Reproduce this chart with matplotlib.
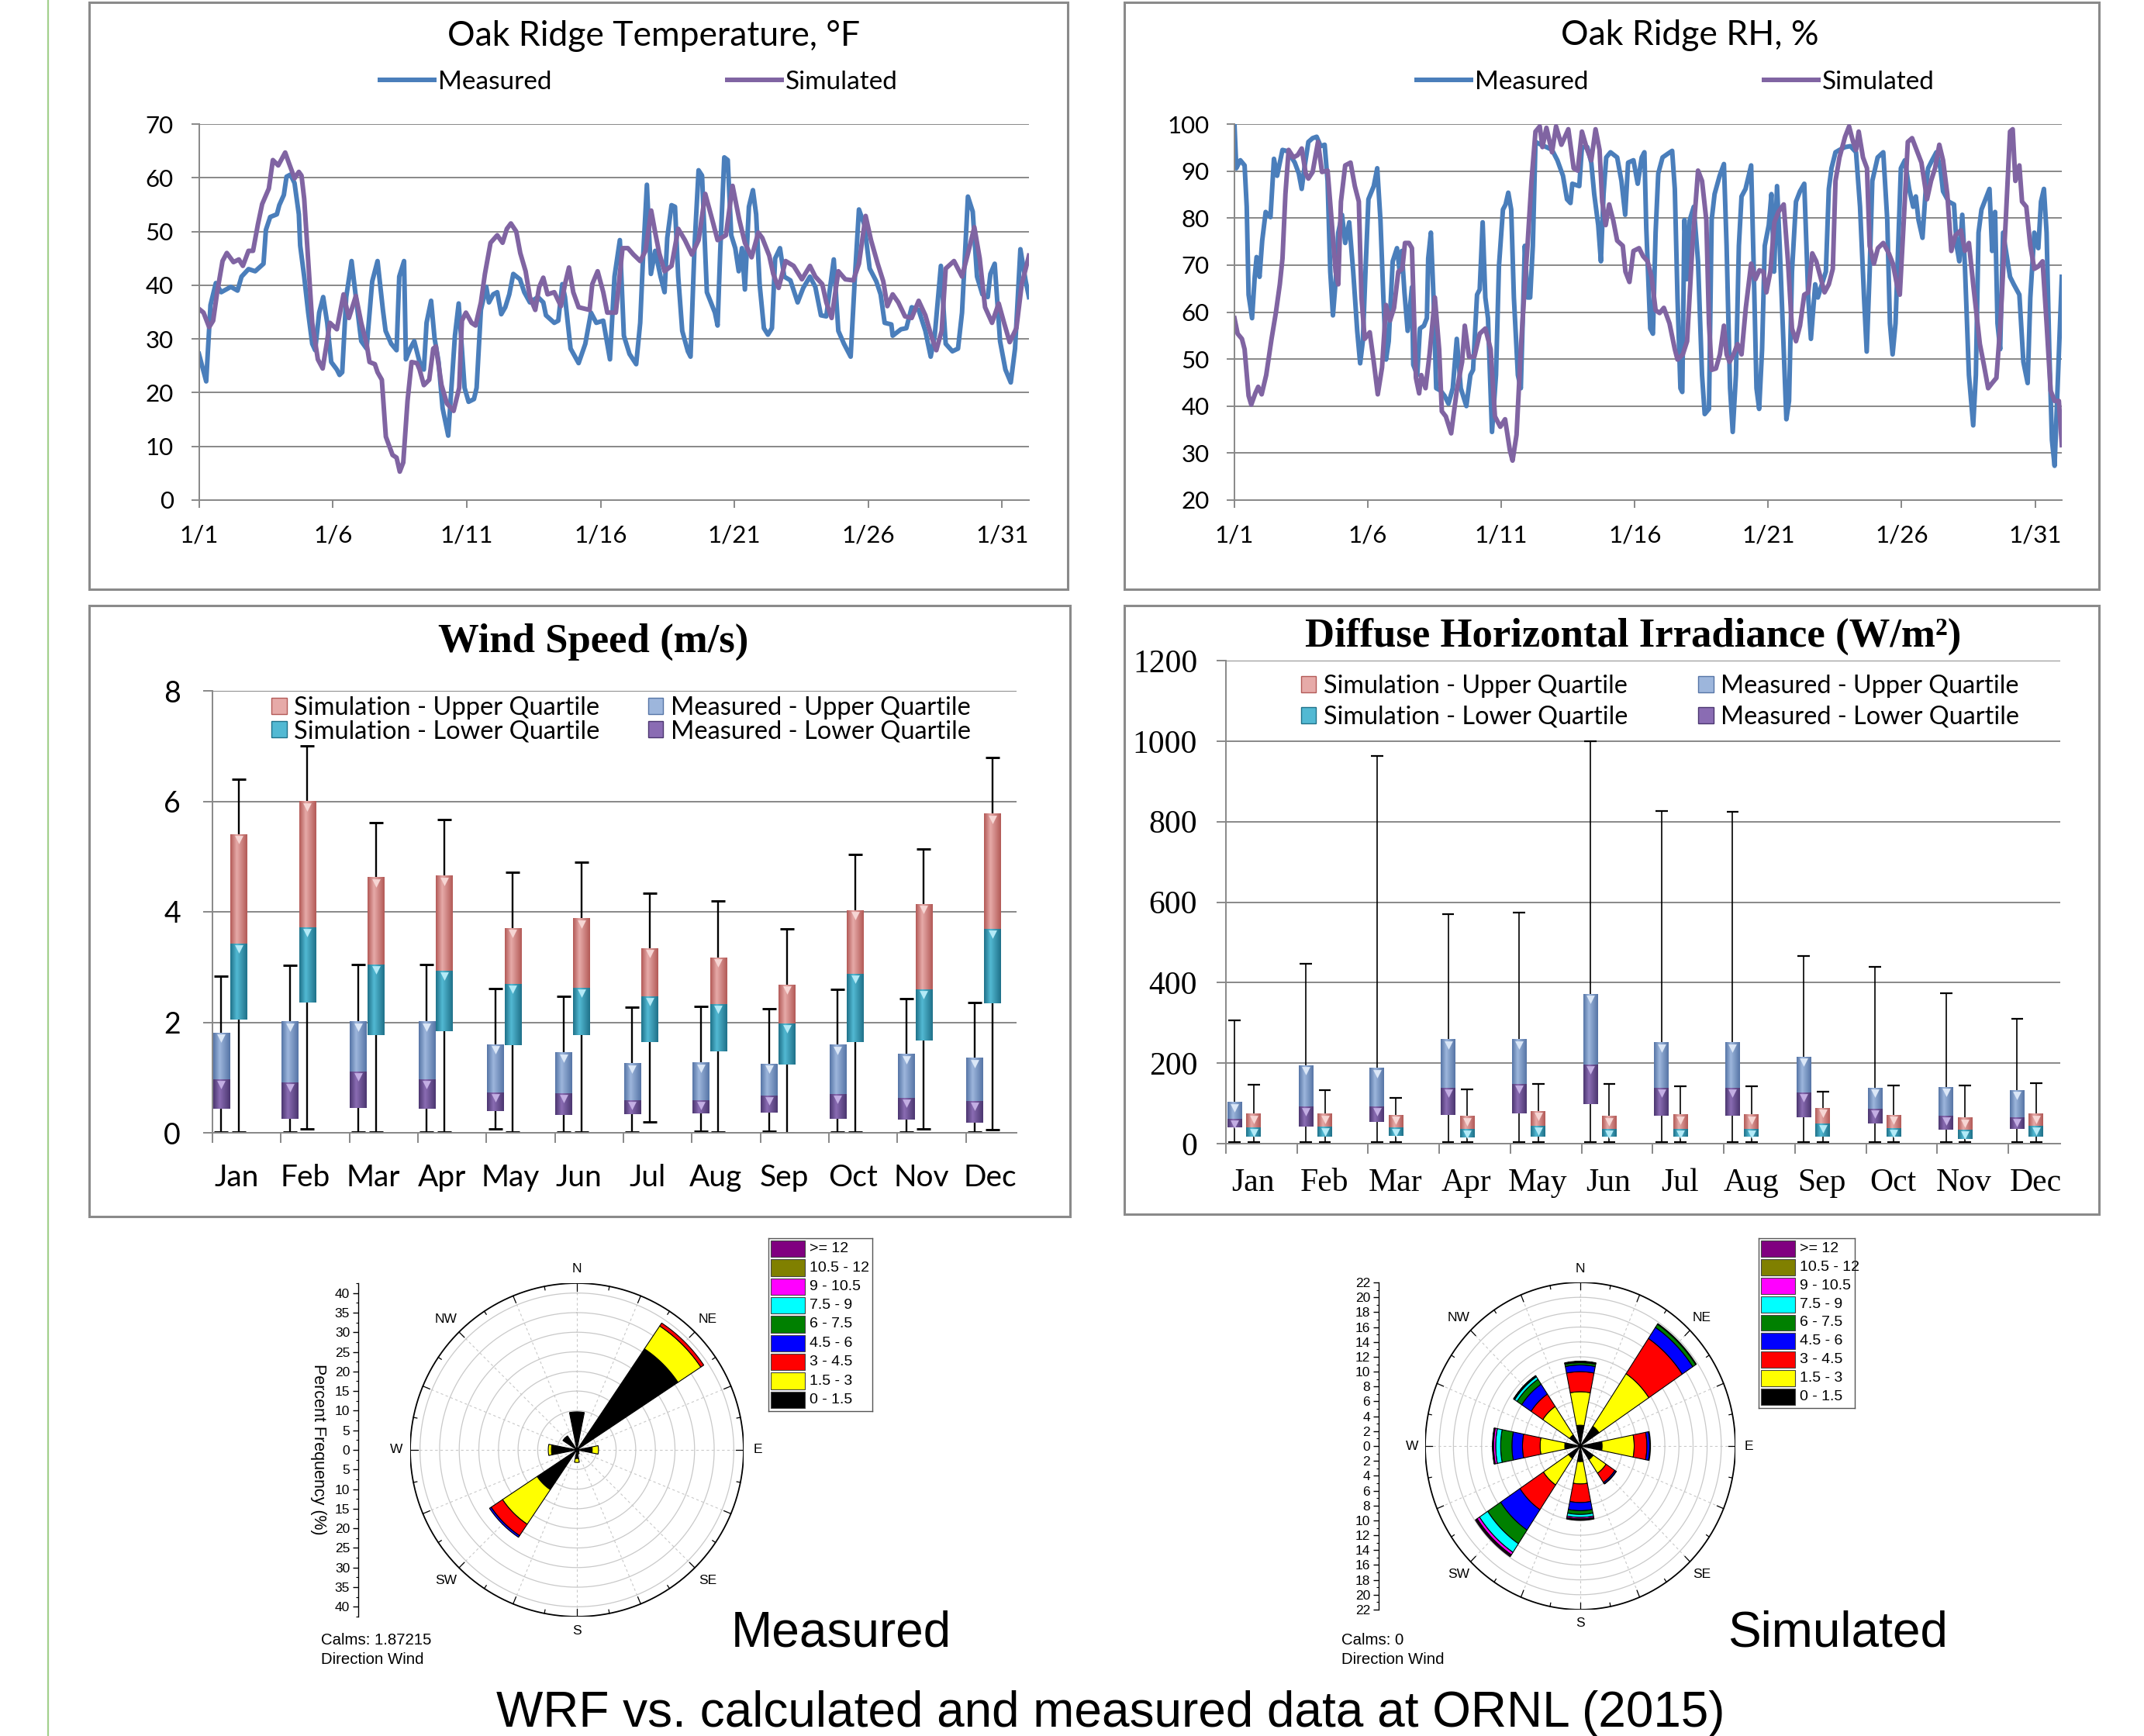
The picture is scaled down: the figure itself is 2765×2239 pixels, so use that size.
import matplotlib
matplotlib.use("Agg")
import matplotlib.pyplot as plt
import numpy as np
from matplotlib import transforms
from matplotlib.colors import LinearSegmentedColormap
from matplotlib.lines import Line2D
from matplotlib.patches import Patch, Rectangle
from matplotlib.ticker import MultipleLocator, FixedLocator

W, H, DPI = 2765, 2239, 100

# ---------------- hourly-ish traces (day of January, value) ----------------
TEMP_MEAS_DAY = [0, 0.27, 0.43, 0.63, 0.83, 1.19, 1.44, 1.59, 1.85, 2.1, 2.41, 2.5, 2.66, 2.91, 3.0, 3.17,
                 3.27, 3.42, 3.57, 3.73, 3.78, 3.93, 4.08, 4.23, 4.34, 4.49, 4.64, 4.79, 4.94, 5.15, 5.25,
                 5.35, 5.5, 5.7, 5.86, 6.06, 6.26, 6.47, 6.67, 6.87, 6.97, 7.18, 7.38, 7.48, 7.66, 7.73,
                 7.89, 8.04, 8.24, 8.4, 8.5, 8.67, 8.8, 8.95, 9.1, 9.31, 9.41, 9.56, 9.7, 9.82, 9.92,
                 10.07, 10.27, 10.37, 10.53, 10.73, 10.83, 10.99, 11.14, 11.29, 11.44, 11.59, 11.74,
                 11.99, 12.15, 12.36, 12.66, 12.86, 12.96, 13.27, 13.42, 13.57, 13.67, 13.88, 14.18,
                 14.43, 14.64, 14.84, 15.1, 15.35, 15.52, 15.72, 15.87, 16.08, 16.33, 16.48, 16.58,
                 16.73, 16.88, 17.04, 17.24, 17.39, 17.49, 17.65, 17.78, 17.9, 18.05, 18.26, 18.36,
                 18.51, 18.66, 18.79, 18.97, 19.12, 19.27, 19.37, 19.47, 19.62, 19.75, 19.88, 20.03,
                 20.16, 20.28, 20.39, 20.54, 20.69, 20.81, 20.94, 21.1, 21.25, 21.4, 21.52, 21.7,
                 21.86, 22.09, 22.36, 22.57, 22.82, 23.02, 23.23, 23.43, 23.55, 23.71, 23.88, 24.09,
                 24.34, 24.49, 24.65, 24.85, 25.05, 25.3, 25.46, 25.61, 25.86, 25.91, 26.22, 26.42,
                 26.62, 26.88, 27.13, 27.33, 27.48, 27.71, 27.89, 28.14, 28.35, 28.5, 28.72, 28.9,
                 29.06, 29.26, 29.46, 29.56, 29.72, 29.92, 30.12, 30.32, 30.48, 30.68, 30.88, 31.0]
TEMP_MEAS = [27.2, 22.1, 36.3, 40.4, 38.7, 39.7, 39.0, 41.6, 43.0, 42.6, 44.0, 50.3, 52.7, 53.2, 54.9, 56.8,
             60.2, 60.6, 59.0, 53.2, 47.4, 41.6, 34.9, 29.1, 27.9, 34.9, 37.8, 33.0, 25.7, 24.3, 23.3,
             23.8, 37.8, 44.5, 37.8, 29.6, 28.2, 40.7, 44.5, 35.4, 31.5, 29.1, 27.9, 41.6, 44.5, 26.2,
             28.2, 29.6, 25.7, 24.3, 33.0, 37.1, 30.1, 25.7, 17.1, 12.0, 19.5, 30.6, 36.6, 28.2, 20.9,
             18.3, 18.8, 20.9, 35.4, 39.7, 36.8, 38.3, 38.7, 34.6, 35.9, 38.3, 42.1,
             41.1, 38.7, 36.8, 37.8, 36.8, 34.4, 33.0, 33.4, 40.2, 37.8, 28.2, 25.5,
             29.1, 34.9, 33.0, 33.4, 26.2, 41.6, 48.4, 30.6, 27.2, 25.3, 33.0, 44.5,
             58.7, 42.1, 46.4, 41.6, 38.7, 48.8, 54.9, 54.6, 41.6, 31.5, 27.7, 26.7,
             47.4, 61.4, 60.4, 38.7, 36.8, 34.9, 32.5, 46.4, 63.8, 63.3, 49.3, 46.9,
             42.6, 46.9, 39.2, 54.6, 57.7, 53.2, 40.2, 32.0, 30.8, 32.0, 45.0, 46.9,
             41.6, 40.9, 36.8, 39.5, 41.6, 39.7, 34.4, 34.2, 38.7, 44.8, 31.5, 29.1,
             26.7, 40.7, 54.1, 51.3, 43.1, 40.7, 38.3, 33.0, 32.7, 30.6, 31.8, 32.0,
             35.9, 35.4, 31.5, 26.7, 30.6, 43.6, 29.1, 27.7, 28.2, 34.9, 56.5, 53.7,
             41.6, 38.3, 37.8, 42.1, 44.0, 29.6, 24.3, 21.9, 28.2, 46.7, 40.7, 37.8]

TEMP_SIM_DAY = [0, 0.17, 0.38, 0.53, 0.68, 0.88, 1.04, 1.29, 1.49, 1.64, 1.85, 2.02, 2.2, 2.36, 2.61, 2.76,
                2.96, 3.22, 3.37, 3.57, 3.73, 3.83, 3.93, 4.08, 4.23, 4.44, 4.62, 4.74, 4.89, 5.15, 5.4,
                5.6, 5.86, 6.06, 6.26, 6.37, 6.57, 6.67, 6.83, 6.98, 7.23, 7.38, 7.5, 7.63, 7.79, 7.94,
                8.14, 8.24, 8.4, 8.6, 8.75, 8.85, 9.06, 9.26, 9.51, 9.72, 9.82, 9.97, 10.18, 10.33,
                10.53, 10.68, 10.89, 11.14, 11.34, 11.5, 11.65, 11.85, 12.0, 12.2, 12.36, 12.56, 12.71,
                12.86, 13.02, 13.27, 13.52, 13.67, 13.82, 13.98, 14.18, 14.59, 14.69, 14.89, 15.1,
                15.25, 15.57, 15.82, 16.02, 16.23, 16.48, 16.68, 16.89, 17.04, 17.19, 17.39, 17.65,
                17.9, 18.15, 18.41, 18.66, 18.91, 19.17, 19.37, 19.68, 19.93, 20.18, 20.39, 20.64,
                20.89, 21.04, 21.3, 21.45, 21.65, 21.91, 22.21, 22.52, 22.82, 23.02, 23.28, 23.43,
                23.63, 23.88, 24.14, 24.44, 24.65, 24.9, 25.1, 25.35, 25.56, 25.71, 25.91, 26.12,
                26.37, 26.62, 26.88, 27.13, 27.38, 27.54, 27.74, 27.89, 28.2, 28.5, 28.7, 28.96,
                29.16, 29.36, 29.62, 29.87, 30.07, 30.28, 30.53, 30.73, 30.88, 31.0]
TEMP_SIM = [35.6, 34.9, 32.2, 33.4, 38.7, 44.5, 46.0, 44.3, 44.8, 43.6, 46.4, 46.4, 51.3, 55.1, 58.0, 63.3,
            62.3, 64.7, 62.6, 59.9, 61.1, 60.4, 56.1, 44.5, 33.0, 26.2, 24.5, 28.2, 33.0, 31.8, 38.3,
            33.9, 38.0, 33.0, 29.1, 25.7, 25.3, 23.8, 22.4, 11.8, 8.4, 7.9, 5.3, 7.0, 18.5, 25.7,
            25.5, 24.3, 21.4, 22.4, 28.2, 28.6, 21.4, 18.0, 16.6, 20.9, 33.4, 34.9, 33.0, 32.5,
            36.8, 42.1, 47.9, 49.3, 47.9, 50.5, 51.5, 50.0, 46.0, 42.6, 37.8, 35.4, 39.7,
            41.4, 38.3, 38.7, 36.1, 40.2, 43.3, 38.7, 35.9, 35.4, 40.2, 42.6, 38.7,
            34.9, 34.9, 46.9, 46.9, 45.7, 44.5, 46.4, 53.9, 49.8, 46.0, 42.6, 43.6,
            50.5, 48.4, 45.7, 48.4, 57.0, 52.2, 48.4, 49.3, 58.5, 52.2, 47.9, 45.2,
            49.8, 48.8, 45.5, 42.1, 39.5, 44.5, 43.6, 41.1, 43.6, 41.6, 40.2, 36.8,
            33.9, 42.6, 41.1, 40.9, 44.0, 52.9, 48.4, 44.0, 40.7, 36.1, 38.3, 36.8,
            34.2, 33.9, 37.1, 34.4, 30.1, 27.9, 31.5, 43.1, 44.5, 41.6, 45.5, 50.8,
            45.0, 35.9, 33.0, 36.6, 33.0, 29.4, 32.0, 40.2, 43.1, 45.5]

RH_MEAS_DAY = [0, 0.07, 0.22, 0.38, 0.46, 0.53, 0.66, 0.76, 0.83, 0.94, 1.04, 1.17, 1.35, 1.48, 1.6, 1.7,
               1.8, 2.0, 2.26, 2.41, 2.52, 2.62, 2.77, 2.93, 3.08, 3.23, 3.38, 3.49, 3.59, 3.69, 3.79,
               3.89, 4.03, 4.15, 4.3, 4.45, 4.6, 4.71, 4.81, 4.91, 5.02, 5.22, 5.35, 5.47, 5.58, 5.68,
               5.78, 5.93, 6.09, 6.19, 6.27, 6.37, 6.49, 6.65, 6.7, 6.85, 6.95, 7.1, 7.21, 7.26, 7.36,
               7.46, 7.56, 7.72, 7.87, 8.02, 8.18, 8.33, 8.48, 8.69, 8.84, 8.94, 9.09, 9.19, 9.3, 9.4,
               9.5, 9.65, 9.8, 9.91, 10.06, 10.16, 10.26, 10.37, 10.47, 10.62, 10.73, 10.88, 10.98,
               11.08, 11.18, 11.28, 11.49, 11.69, 11.9, 12.1, 12.31, 12.46, 12.59, 12.66, 12.92,
               13.02, 13.22, 13.37, 13.48, 13.63, 13.73, 13.83, 13.93, 14.09, 14.34, 14.5, 14.64,
               14.75, 14.95, 15.11, 15.26, 15.36, 15.43, 15.58, 15.68, 15.78, 15.88, 16.04, 16.24,
               16.4, 16.5, 16.6, 16.71, 16.78, 16.86, 16.96, 17.06, 17.21, 17.37, 17.52, 17.62,
               17.78, 17.88, 17.99, 18.18, 18.34, 18.44, 18.57, 18.67, 18.79, 18.9, 19.0, 19.15,
               19.36, 19.46, 19.56, 19.66, 19.77, 19.87, 20.02, 20.12, 20.22, 20.33, 20.43, 20.58,
               20.68, 20.78, 20.89, 21.04, 21.19, 21.35, 21.5, 21.6, 21.76, 21.86, 22.01, 22.16,
               22.27, 22.37, 22.52, 22.67, 22.88, 23.08, 23.29, 23.44, 23.59, 23.69, 23.8, 23.9,
               24.1, 24.31, 24.46, 24.56, 24.66, 24.77, 24.87, 24.97, 25.12, 25.28, 25.43, 25.53,
               25.63, 25.78, 25.89, 25.99, 26.14, 26.3, 26.45, 26.55, 26.76, 26.96, 27.06, 27.16,
               27.27, 27.37, 27.52, 27.68, 27.78, 27.88, 27.99, 28.14, 28.29, 28.39, 28.5, 28.59,
               28.69, 28.8, 29.06, 29.2, 29.41, 29.56, 29.72, 29.82, 29.97, 30.12, 30.22, 30.33,
               30.43, 30.53, 30.63, 30.73, 30.84, 30.94, 31.0]
RH_MEAS = [100, 90.6, 92.3, 91.2, 82.4, 63.7, 58.7, 67.5, 71.7, 67.5, 75.2, 81.3, 80.2, 92.6, 89.0, 91.8,
           94.5, 94.2, 91.8, 89.5, 86.2, 90.6, 96.2, 97.0, 97.3, 95.3, 95.6, 87.9, 68.6, 59.3, 66.4,
           76.9, 80.7, 74.7, 79.1, 68.6, 56.0, 49.1, 53.8, 68.6, 84.0, 86.8, 90.6, 79.6, 63.1, 49.9,
           53.8, 70.8, 73.6, 68.6, 73.0, 64.2, 56.0, 65.3, 48.8, 46.6, 56.5, 57.1, 58.7, 71.4, 76.9,
           63.1, 43.8, 43.3, 42.2, 40.5, 43.8, 54.3, 43.8, 40.0, 46.6, 47.7, 63.7, 64.8, 79.1, 63.1,
           58.7, 34.5, 46.6, 69.7, 81.8, 82.9, 85.4, 81.8, 63.1, 46.6, 43.8, 74.1, 63.1,
           63.1, 74.1, 96.2, 95.6, 95.1, 94.5, 92.3, 89.0, 84.0, 83.2, 87.3, 86.8,
           95.1, 95.1, 91.8, 85.1, 78.5, 70.8, 85.1, 92.9, 94.0, 92.9, 87.9, 80.7,
           91.8, 92.3, 87.3, 92.9, 94.0, 78.0, 56.5, 55.4, 76.9, 89.5, 92.9, 93.7,
           94.3, 86.2, 63.1, 43.8, 43.0, 79.6, 67.0, 79.6, 82.4, 70.8, 46.6, 38.3,
           39.4, 79.6, 85.1, 89.0, 91.5, 74.1, 43.8, 34.5, 46.6, 74.1, 84.6, 86.2,
           91.2, 68.6, 43.8, 39.4, 52.1, 74.1, 78.5, 85.1, 68.6, 86.8, 74.1, 52.1,
           37.2, 41.1, 68.6, 83.5, 85.7, 87.3, 63.1, 54.3, 65.9, 63.1, 65.9, 68.6,
           86.2, 90.6, 94.0, 94.5, 95.1, 95.3, 94.0, 82.4, 63.1, 51.6, 68.6, 87.9,
           92.9, 94.0, 79.6, 57.6, 51.0, 57.6, 74.1, 90.6, 92.3, 86.2, 82.4, 84.6,
           79.6, 75.8, 85.1, 90.6, 92.3, 94.0, 90.6, 85.7, 83.5, 82.9, 74.1, 70.8,
           80.7, 69.7, 46.6, 35.9, 46.6, 76.9, 81.8, 84.0, 86.2, 73.0, 81.3, 57.6,
           52.1, 76.9, 67.5, 65.9, 63.7, 49.4, 44.9, 63.1, 76.9, 73.6, 83.5, 86.2,
           76.9, 52.1, 32.8, 27.3, 43.8, 58.7, 67.5]

RH_SIM_DAY = [0, 0.12, 0.28, 0.38, 0.53, 0.63, 0.78, 0.89, 1.02, 1.19, 1.39, 1.55, 1.7, 1.8, 1.91, 2.03,
              2.21, 2.37, 2.52, 2.67, 2.77, 2.93, 3.13, 3.28, 3.49, 3.64, 3.79, 3.89, 3.99, 4.15, 4.35,
              4.51, 4.66, 4.76, 4.88, 5.07, 5.22, 5.37, 5.53, 5.68, 5.83, 5.98, 6.14, 6.29, 6.39, 6.54,
              6.65, 6.8, 6.92, 7.0, 7.16, 7.31, 7.51, 7.67, 7.77, 7.92, 8.12, 8.33, 8.53, 8.63, 8.79,
              8.99, 9.19, 9.4, 9.6, 9.76, 9.96, 10.14, 10.32, 10.42, 10.57, 10.73, 10.88, 10.98,
              11.13, 11.28, 11.44, 11.54, 11.69, 11.9, 12.05, 12.25, 12.51, 12.71, 12.86, 13.02,
              13.22, 13.37, 13.53, 13.68, 13.78, 13.91, 14.04, 14.19, 14.34, 14.55, 14.65, 14.8,
              14.95, 15.16, 15.31, 15.48, 15.63, 15.78, 15.93, 16.09, 16.3, 16.5, 16.6, 16.8, 16.96,
              17.16, 17.37, 17.52, 17.68, 17.78, 17.88, 18.04, 18.19, 18.34, 18.44, 18.55, 18.7,
              18.85, 19.0, 19.16, 19.36, 19.52, 19.67, 19.82, 19.93, 20.08, 20.23, 20.38, 20.58,
              20.74, 20.89, 21.04, 21.19, 21.35, 21.5, 21.65, 21.8, 22.11, 22.27, 22.42, 22.52,
              22.67, 22.88, 23.03, 23.18, 23.29, 23.39, 23.55, 23.7, 23.8, 23.96, 24.11, 24.31,
              24.52, 24.67, 24.82, 24.93, 25.08, 25.23, 25.39, 25.59, 25.74, 25.95, 26.1, 26.25,
              26.41, 26.55, 26.71, 26.86, 27.01, 27.22, 27.37, 27.52, 27.68, 27.93, 28.08, 28.24,
              28.39, 28.55, 28.7, 28.9, 29.06, 29.16, 29.26, 29.41, 29.51, 29.67, 29.82, 29.97,
              30.12, 30.28, 30.43, 30.58, 30.73, 30.89, 31.0]
RH_SIM = [58.7, 55.4, 54.3, 52.1, 42.2, 40.3, 42.7, 44.1, 42.5, 46.6, 54.3, 59.8, 65.9, 71.4, 85.1, 94.5,
          92.9, 93.4, 94.8, 89.5, 88.4, 89.8, 96.2, 89.8, 90.1, 79.6, 68.6, 65.9, 83.5, 91.2, 91.8,
          86.8, 83.5, 63.1, 54.3, 55.7, 49.4, 42.5, 48.2, 61.5, 58.2, 60.9, 68.6, 69.2, 74.7, 74.7,
          73.6, 46.0, 42.7, 46.6, 43.8, 51.0, 63.1, 52.1, 38.9, 37.8, 34.2, 43.3, 49.4, 57.1, 50.5,
          50.5, 55.4, 56.5, 52.1, 37.8, 35.6, 37.2, 30.6, 28.4, 33.9, 52.1, 65.9, 74.1,
          87.9, 98.4, 99.5, 95.1, 99.2, 94.0, 99.5, 95.6, 98.9, 90.6, 90.1, 98.4,
          94.5, 92.3, 98.9, 94.5, 83.5, 78.5, 82.9, 79.6, 75.2, 74.1, 68.6, 66.4,
          73.0, 73.6, 71.9, 70.8, 67.5, 60.4, 59.8, 60.9, 57.6, 52.1, 49.9, 51.0, 53.8,
          74.1, 90.1, 87.9, 79.6, 57.6, 47.7, 48.0, 51.0, 57.1, 51.0, 49.4, 51.0,
          53.2, 51.0, 60.9, 70.3, 67.0, 68.9, 68.6, 64.2, 68.6, 79.1, 81.3, 82.9,
          70.8, 56.5, 53.8, 57.1, 63.7, 64.2, 72.5, 70.8, 64.2, 65.9, 69.2, 87.9,
          92.9, 97.3, 99.5, 96.2, 94.5, 98.4, 92.9, 90.6, 74.1, 70.3, 73.6, 74.7,
          72.5, 70.3, 65.9, 63.7, 79.6, 96.2, 97.0, 94.0, 91.8, 84.0, 87.9, 90.6,
          95.6, 92.3, 85.1, 73.0, 76.3, 77.4, 73.0, 74.7, 65.9, 53.2, 48.8, 43.8,
          44.9, 46.0, 57.6, 79.6, 98.4, 98.9, 87.9, 91.2, 83.5, 82.4, 74.1, 69.2,
          69.7, 70.8, 57.6, 43.3, 41.1, 41.1, 31.7]

# ---------------- monthly box plots ----------------
MONTHS = ["Jan", "Feb", "Mar", "Apr", "May", "Jun", "Jul", "Aug", "Sep", "Oct", "Nov", "Dec"]

WS_MEAS_MIN = [0.02, 0.02, 0.02, 0.02, 0.07, 0.02, 0.02, 0.03, 0.03, 0.02, 0.02, 0.02]
WS_MEAS_Q1 = [0.43, 0.25, 0.45, 0.43, 0.39, 0.32, 0.34, 0.35, 0.36, 0.25, 0.24, 0.18]
WS_MEAS_MED = [0.97, 0.91, 1.11, 0.97, 0.73, 0.72, 0.59, 0.59, 0.68, 0.70, 0.63, 0.57]
WS_MEAS_Q3 = [1.81, 2.01, 2.01, 2.01, 1.60, 1.45, 1.25, 1.27, 1.25, 1.59, 1.42, 1.35]
WS_MEAS_MAX = [2.83, 3.03, 3.04, 3.04, 2.61, 2.47, 2.27, 2.29, 2.25, 2.60, 2.43, 2.36]
WS_SIM_MIN = [0.02, 0.07, 0.02, 0.02, 0.02, 0.02, 0.19, 0.02, 0.0, 0.02, 0.07, 0.06]
WS_SIM_Q1 = [2.05, 2.36, 1.77, 1.84, 1.59, 1.77, 1.64, 1.47, 1.24, 1.64, 1.67, 2.34]
WS_SIM_MED = [3.43, 3.72, 3.04, 2.93, 2.70, 2.63, 2.47, 2.33, 1.98, 2.88, 2.60, 3.69]
WS_SIM_Q3 = [5.40, 6.00, 4.62, 4.65, 3.70, 3.88, 3.34, 3.17, 2.68, 4.03, 4.14, 5.77]
WS_SIM_MAX = [6.40, 7.00, 5.62, 5.67, 4.72, 4.90, 4.34, 4.19, 3.69, 5.04, 5.14, 6.80]

DHI_MEAS_MIN = [4, 4, 4, 4, 4, 4, 4, 4, 4, 4, 4, 4]
DHI_MEAS_Q1 = [41, 43, 53, 71, 76, 98, 69, 69, 66, 51, 34, 36]
DHI_MEAS_MED = [61, 92, 92, 138, 148, 197, 138, 138, 128, 86, 69, 66]
DHI_MEAS_Q3 = [103, 194, 187, 258, 258, 371, 251, 251, 216, 138, 140, 133]
DHI_MEAS_MAX = [307, 447, 963, 571, 574, 1000, 827, 825, 466, 439, 373, 311]
DHI_SIM_MIN = [4, 4, 4, 4, 4, 4, 4, 4, 4, 4, 4, 4]
DHI_SIM_Q1 = [17, 17, 19, 15, 17, 17, 17, 17, 17, 17, 12, 17]
DHI_SIM_MED = [41, 43, 41, 36, 44, 36, 36, 36, 51, 39, 34, 44]
DHI_SIM_Q3 = [74, 74, 71, 68, 80, 68, 71, 71, 88, 71, 63, 74]
DHI_SIM_MAX = [147, 133, 113, 135, 149, 149, 142, 142, 129, 145, 145, 150]

# ---------------- wind roses: percent per direction (N, NNE, ... NNW) and speed bin ----------------
SPEED_BINS = ["0 - 1.5", "1.5 - 3", "3 - 4.5", "4.5 - 6", "6 - 7.5", "7.5 - 9", "9 - 10.5", "10.5 - 12", ">= 12"]
BIN_COLORS = ["#000000", "#ffff00", "#ff0000", "#0000ff", "#008000", "#00ffff", "#ff00ff", "#808000", "#800080"]
COMPASS = ["N", "NE", "E", "SE", "S", "SW", "W", "NW"]

ROSE_MEAS = [
    [9.7],                       # N
    [0.4],                       # NNE
    [31.0, 7.0, 0.9],            # NE
    [0.4],                       # ENE
    [3.9, 1.6],                  # E
    [0.3],                       # ESE
    [0.4, 0.3],                  # SE
    [0.6, 0.5],                  # SSE
    [2.2, 1.0],                  # S
    [0.5],                       # SSW
    [12.2, 10.6, 3.5, 0.5],      # SW
    [0.4],                       # WSW
    [6.5, 0.8],                  # W
    [0.4],                       # WNW
    [4.3],                       # NW
    [0.4],                       # NNW
]
ROSE_SIM = [
    [2.8, 4.5, 2.7, 0.9, 0.3, 0.1, 0.05, 0.05],
    [],
    [3.2, 8.5, 5.7, 1.8, 0.5, 0.1],
    [],
    [3.1, 4.55, 1.8, 0.4, 0.1],
    [],
    [2.2, 2.2, 1.5, 0.2, 0.05],
    [],
    [2.1, 3.0, 2.5, 1.1, 0.5, 0.4, 0.2, 0.1, 0.1],
    [],
    [2.0, 4.3, 4.0, 3.3, 2.2, 1.4, 0.4, 0.15, 0.15],
    [],
    [2.2, 3.5, 2.5, 1.5, 1.6, 0.7, 0.3, 0.1, 0.05],
    [],
    [1.8, 4.6, 2.0, 1.6, 0.8, 0.4, 0.1, 0.05, 0.05],
    [],
]
CALMS_MEAS = "1.87215"
CALMS_SIM = "0"

GRID = "#888888"
BLUE = "#4a7ebb"
PURPLE = "#8064a2"
SANS = "Lato"
SERIF = "Liberation Serif"
ARIAL = "Liberation Sans"

# (edge, centre, marker) shades for the bevelled boxes
SIM_UP = ("#b35a57", "#e6aaa8", "#f6d6d4")
SIM_LO = ("#1f7189", "#52b9d3", "#b3eaf7")
MEAS_UP = ("#5675a6", "#9db6dc", "#dbe7f7")
MEAS_LO = ("#4b3670", "#8a6cb3", "#c3aee3")


def px_axes(fig, left, top, right, bottom):
    return fig.add_axes([left / W, 1 - bottom / H, (right - left) / W, (bottom - top) / H])


def frame(fig, left, top, right, bottom):
    fig.add_artist(Rectangle((left / W, 1 - bottom / H), (right - left) / W, (bottom - top) / H,
                             transform=fig.transFigure, fill=False, edgecolor="#8a8a8a", lw=2.2))


def excel_axes(ax):
    for s in ("top", "right"):
        ax.spines[s].set_visible(False)
    for s in ("left", "bottom"):
        ax.spines[s].set_color(GRID)
        ax.spines[s].set_linewidth(1.4)
    ax.grid(axis="y", color=GRID, lw=1.4)
    ax.set_axisbelow(True)


def line_panel(fig, box, days, series, ylim, yticks, title, title_xy, legend_xy):
    ax = px_axes(fig, *box)
    excel_axes(ax)
    for (d, v), c in zip(zip(days, series), (BLUE, PURPLE)):
        ax.plot(d, v, color=c, lw=4.3, solid_joinstyle="round")
    ax.set_xlim(0, 31)
    ax.set_ylim(*ylim)
    ax.set_yticks(yticks)
    ax.set_xticks(np.arange(0, 31, 5))
    ax.set_xticklabels([f"1/{d + 1}" for d in range(0, 31, 5)])
    ax.tick_params(axis="both", color=GRID, width=1.4, length=7.5, labelsize=22.5)
    ax.tick_params(axis="y", pad=16)
    ax.tick_params(axis="x", pad=15)
    for lab in ax.get_xticklabels() + ax.get_yticklabels():
        lab.set_family(SANS)
    fig.text(title_xy[0] / W, 1 - title_xy[1] / H, title, family=SANS, fontsize=32, ha="center", va="center")
    handles = [Line2D([], [], color=BLUE, lw=4.3), Line2D([], [], color=PURPLE, lw=4.3)]
    ax.legend(handles, ["Measured", "Simulated"], ncol=2, loc="center left", frameon=False,
              bbox_to_anchor=(legend_xy[0] / W, 1 - legend_xy[1] / H), bbox_transform=fig.transFigure,
              borderaxespad=0, borderpad=0, handlelength=2.1, handletextpad=0.15, columnspacing=6.8,
              prop={"family": SANS, "size": 24})


def gradient_bar(ax, x, y0, y1, width, shades):
    cmap = LinearSegmentedColormap.from_list("bevel", [(0, shades[0]), (0.38, shades[1]), (1, shades[0])])
    grad = np.linspace(0, 1, 64).reshape(1, -1)
    ax.imshow(grad, cmap=cmap, extent=(x - width / 2, x + width / 2, y0, y1), aspect="auto",
              interpolation="bilinear", zorder=3)


def box_panel(fig, ax, meas, sim, offsets, width, whisker_lw):
    idx = np.arange(len(MONTHS))
    tri = transforms.offset_copy(ax.transData, fig=fig, x=0, y=-7, units="dots")
    for stats, off, lo_c, up_c in ((meas, offsets[0], MEAS_LO, MEAS_UP), (sim, offsets[1], SIM_LO, SIM_UP)):
        lo, q1, med, q3, hi = (np.asarray(s, dtype=float) for s in stats)
        xs = idx + off
        ax.vlines(xs, lo, hi, color="black", lw=whisker_lw, zorder=2)
        ax.hlines(np.concatenate([lo, hi]), np.tile(xs - width * 0.42, 2), np.tile(xs + width * 0.42, 2),
                  color="black", lw=whisker_lw + 0.4, zorder=2)
        for x, a, m, b in zip(xs, q1, med, q3):
            gradient_bar(ax, x, a, m, width, lo_c)
            gradient_bar(ax, x, m, b, width, up_c)
        ax.scatter(xs, med, marker="v", s=60, color=lo_c[2], lw=0, zorder=4, transform=tri)
        ax.scatter(xs, q3, marker="v", s=60, color=up_c[2], lw=0, zorder=4, transform=tri)
    ax.set_aspect("auto")
    ax.set_xticks(np.arange(12))
    ax.set_xticklabels([])
    ax.tick_params(axis="x", which="major", color=GRID, width=1.4, length=9)
    ax.tick_params(axis="y", which="major", color=GRID, width=1.4, length=8.5)


def box_legend(fig, ax, anchor, size, colspacing, labelspacing):
    handles = [Patch(facecolor=SIM_UP[1], edgecolor=SIM_UP[0]), Patch(facecolor=SIM_LO[1], edgecolor=SIM_LO[0]),
               Patch(facecolor=MEAS_UP[1], edgecolor=MEAS_UP[0]), Patch(facecolor=MEAS_LO[1], edgecolor=MEAS_LO[0])]
    labels = ["Simulation - Upper Quartile", "Simulation - Lower Quartile",
              "Measured - Upper Quartile", "Measured - Lower Quartile"]
    ax.legend(handles, labels, ncol=2, loc="upper left", frameon=False,
              bbox_to_anchor=(anchor[0] / W, 1 - anchor[1] / H), bbox_transform=fig.transFigure,
              borderaxespad=0, borderpad=0, handlelength=0.6, handleheight=0.6, handletextpad=0.3,
              columnspacing=colspacing, labelspacing=labelspacing, prop={"family": SANS, "size": size})


def wind_rose(fig, box, table, rmax, ring_step, major, minor, spine_out, calms, name, name_x, legend_box):
    ax = px_axes(fig, *box)
    t = np.linspace(0, 2 * np.pi, 361)
    for r in np.arange(ring_step, rmax - 1e-6, ring_step):
        ax.plot(r * np.sin(t), r * np.cos(t), color="#c9c9c9", lw=0.9, zorder=1)
    for a in np.arange(0, 360, 22.5):
        th = np.radians(a)
        ax.plot([0, rmax * np.sin(th)], [0, rmax * np.cos(th)], color="#c9c9c9", lw=0.8,
                ls=(0, (3, 3)), zorder=1)
    for a in np.arange(0, 360, 11.25):
        th = np.radians(a)
        k = 0.045 if a % 22.5 == 0 else 0.022
        ax.plot([rmax * np.sin(th), rmax * (1 - k) * np.sin(th)],
                [rmax * np.cos(th), rmax * (1 - k) * np.cos(th)], color="black", lw=0.9, zorder=4)
    ax.plot(rmax * np.sin(t), rmax * np.cos(t), color="black", lw=1.3, zorder=4)
    for d, row in enumerate(table):
        centre = d * 22.5
        th = np.radians(np.linspace(centre - 11.25, centre + 11.25, 40))
        r0 = 0.0
        for b, v in enumerate(row):
            if v <= 0:
                continue
            r1 = r0 + v
            xs = np.concatenate([r0 * np.sin(th), r1 * np.sin(th[::-1])])
            ys = np.concatenate([r0 * np.cos(th), r1 * np.cos(th[::-1])])
            ax.fill(xs, ys, facecolor=BIN_COLORS[b], edgecolor="black", lw=0.8, zorder=3)
            r0 = r1
    for i, lab in enumerate(COMPASS):
        th = np.radians(i * 45)
        k = 1.085 if i % 2 == 0 else 1.11
        ax.text(k * rmax * np.sin(th), k * rmax * np.cos(th), lab, family=ARIAL, fontsize=12.5,
                ha="center", va="center")
    ax.set_xlim(-rmax, rmax)
    ax.set_ylim(-rmax, rmax)
    ax.set_xticks([])
    for s in ("top", "right", "bottom"):
        ax.spines[s].set_visible(False)
    ax.spines["left"].set_position(("outward", spine_out))
    ax.spines["left"].set_linewidth(1.0)
    ticks = np.arange(-rmax + (rmax % major), rmax + 1e-6, major)
    ax.yaxis.set_major_locator(FixedLocator(ticks))
    ax.set_yticklabels([f"{abs(v):g}" for v in ticks])
    ax.yaxis.set_minor_locator(MultipleLocator(minor))
    ax.tick_params(axis="y", which="major", length=5, width=1.0, labelsize=12.5, pad=3)
    ax.tick_params(axis="y", which="minor", length=2.5, width=0.8)
    for lab in ax.get_yticklabels():
        lab.set_family(ARIAL)
    ax.patch.set_alpha(0)

    left = box[0] - spine_out * DPI / 72
    fig.text((left - 48) / W, 1 - 2121 / H, f"Calms: {calms}", family=ARIAL, fontsize=14.7)
    fig.text((left - 48) / W, 1 - 2146 / H, "Direction Wind", family=ARIAL, fontsize=14.7)
    fig.text(name_x / W, 1 - 2123 / H, name, family=ARIAL, fontsize=46, ha="center", va="baseline")

    lx0, ly0, lx1, ly1 = legend_box
    lax = px_axes(fig, lx0, ly0, lx1, ly1)
    lax.set_xlim(0, lx1 - lx0)
    lax.set_ylim(ly1 - ly0, 0)
    lax.set_xticks([])
    lax.set_yticks([])
    for s in lax.spines.values():
        s.set_color("#555555")
        s.set_linewidth(1.0)
    pitch = (ly1 - ly0 - 4) / len(SPEED_BINS)
    for i, (lab, col) in enumerate(zip(SPEED_BINS[::-1], BIN_COLORS[::-1])):
        top = 3 + i * pitch
        lax.add_patch(Rectangle((3, top), 44, pitch - 3, facecolor=col, edgecolor="#444444", lw=0.8))
        lax.text(53, top + (pitch - 3) / 2, lab, family=ARIAL, fontsize=14, va="center", ha="left")
    return ax


def main():
    fig = plt.figure(figsize=(W / DPI, H / DPI), dpi=DPI)
    fig.patch.set_facecolor("white")
    fig.add_artist(Line2D([62 / W, 62 / W], [0, 1], transform=fig.transFigure, color="#a3d08d", lw=1.6))

    # temperature and RH
    frame(fig, 115, 3, 1377, 760)
    frame(fig, 1450, 3, 2707, 760)
    line_panel(fig, (256.6, 160, 1327, 645), (TEMP_MEAS_DAY, TEMP_SIM_DAY), (TEMP_MEAS, TEMP_SIM),
               (0, 70), np.arange(0, 71, 10), "Oak Ridge Temperature, °F", (843, 46), (490, 106))
    line_panel(fig, (1592, 160, 2659, 645), (RH_MEAS_DAY, RH_SIM_DAY), (RH_MEAS, RH_SIM),
               (20, 100), np.arange(20, 101, 10), "Oak Ridge RH, %", (2179, 46), (1827, 106))

    # wind speed box plot
    frame(fig, 115, 781, 1380, 1569)
    ax = px_axes(fig, 274, 891, 1311, 1461)
    excel_axes(ax)
    box_panel(fig, ax, (WS_MEAS_MIN, WS_MEAS_Q1, WS_MEAS_MED, WS_MEAS_Q3, WS_MEAS_MAX),
              (WS_SIM_MIN, WS_SIM_Q1, WS_SIM_MED, WS_SIM_Q3, WS_SIM_MAX), (0.128, 0.385), 0.24, 1.7)
    ax.set_xlim(0, 11.74)
    ax.set_ylim(0, 8)
    ax.set_yticks(np.arange(0, 9, 2))
    ax.set_xticks(np.arange(12) + 0.35, minor=True)
    ax.set_xticklabels(MONTHS, minor=True, family=SANS, fontsize=28)
    ax.tick_params(axis="x", which="minor", length=0, pad=29)
    ax.tick_params(axis="y", labelsize=27, pad=21)
    for lab in ax.get_yticklabels():
        lab.set_family(SANS)
    fig.text(765 / W, 1 - 828 / H, "Wind Speed (m/s)", family=SERIF, weight="bold", fontsize=38,
             ha="center", va="center")
    box_legend(fig, ax, (350, 898), 23.5, 1.9, 0.0)

    # diffuse horizontal irradiance box plot
    frame(fig, 1450, 781, 2707, 1566)
    ax = px_axes(fig, 1581, 852, 2657, 1475)
    excel_axes(ax)
    box_panel(fig, ax, (DHI_MEAS_MIN, DHI_MEAS_Q1, DHI_MEAS_MED, DHI_MEAS_Q3, DHI_MEAS_MAX),
              (DHI_SIM_MIN, DHI_SIM_Q1, DHI_SIM_MED, DHI_SIM_Q3, DHI_SIM_MAX), (0.124, 0.39), 0.205, 1.2)
    ax.set_xlim(0, 11.73)
    ax.set_ylim(0, 1200)
    ax.set_yticks(np.arange(0, 1201, 200))
    ax.set_xticks(np.arange(12) + 0.38, minor=True)
    ax.set_xticklabels(MONTHS, minor=True, family=SERIF, fontsize=30)
    ax.tick_params(axis="x", which="minor", length=0, pad=23)
    ax.tick_params(axis="y", labelsize=30, pad=18)
    for lab in ax.get_yticklabels():
        lab.set_family(SERIF)
    fig.text(2106 / W, 1 - 821 / H, "Diffuse Horizontal Irradiance (W/m²)", family=SERIF, weight="bold",
             fontsize=38, ha="center", va="center")
    box_legend(fig, ax, (1678, 870), 23.3, 2.8, 0.3)

    # wind roses
    wind_rose(fig, (529, 1655, 959, 2085), ROSE_MEAS, 42.5, 5, 5, 2.5, 48, CALMS_MEAS,
              "Measured", 1085, (991, 1597, 1125, 1820))
    fig.text(410 / W, 1 - 1869 / H, "Percent Frequency (%)", family=ARIAL, fontsize=15.5,
             rotation=270, ha="center", va="center")
    wind_rose(fig, (1838, 1654, 2238, 2076), ROSE_SIM, 22, 2, 2, 1, 43, CALMS_SIM,
              "Simulated", 2370, (2268, 1597, 2392, 1816))

    fig.text(1432 / W, 1 - 2227 / H, "WRF vs. calculated and measured data at ORNL (2015)", family=ARIAL,
             fontsize=46, ha="center", va="baseline")

    fig.savefig("out.png", dpi=DPI)
    plt.close(fig)


if __name__ == "__main__":
    main()
